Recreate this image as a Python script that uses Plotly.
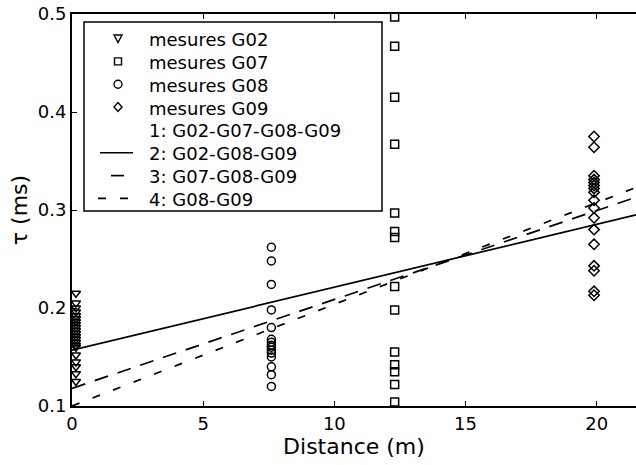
import plotly.graph_objects as go

# ---- data ----
x_g02 = 0.15
y_g02 = [0.215, 0.205, 0.2, 0.196, 0.192, 0.189, 0.186, 0.183, 0.18, 0.177,
         0.174, 0.171, 0.168, 0.165, 0.162, 0.16, 0.152, 0.145, 0.14, 0.133,
         0.125]
x_g07 = 12.3
y_g07 = [0.497, 0.467, 0.415, 0.367, 0.297, 0.278, 0.272, 0.222, 0.198,
         0.155, 0.142, 0.135, 0.122, 0.104]
x_g08 = 7.6
y_g08 = [0.262, 0.248, 0.224, 0.198, 0.18, 0.168, 0.165, 0.162, 0.16, 0.157,
         0.154, 0.15, 0.14, 0.132, 0.12]
x_g09 = 19.9
y_g09 = [0.375, 0.364, 0.335, 0.331, 0.328, 0.325, 0.322, 0.318, 0.31,
         0.302, 0.292, 0.28, 0.265, 0.243, 0.238, 0.217, 0.213]

line_x = [0.0, 21.5]
line2_y = [0.157, 0.295]
line3_y = [0.118, 0.313]
line4_y = [0.100, 0.323]

x_ticks = [0, 5, 10, 15, 20]
y_ticks = [0.1, 0.2, 0.3, 0.4, 0.5]
y_tick_text = ["0.1", "0.2", "0.3", "0.4", "0.5"]

legend_labels = ["mesures G02", "mesures G07", "mesures G08", "mesures G09",
                 "1: G02-G07-G08-G09", "2: G02-G08-G09", "3: G07-G08-G09",
                 "4: G08-G09"]
x_title = "Distance (m)"
y_title = "τ (ms)"

FONT = "DejaVu Sans, Liberation Sans, Arial, sans-serif"
W, H = 636, 465
L, R, T, B = 72, 0, 14, 59
PW, PH = W - L - R, H - T - B

DASH3 = "14px,10px"
DASH4 = "8px,14px"

mk = dict(color="black", size=8, line=dict(color="black", width=1.5))

fig = go.Figure()
fig.add_trace(go.Scatter(x=[x_g02] * len(y_g02), y=y_g02, mode="markers",
                         name=legend_labels[0], cliponaxis=False,
                         marker=dict(symbol="triangle-down-open", **mk)))
fig.add_trace(go.Scatter(x=[x_g07] * len(y_g07), y=y_g07, mode="markers",
                         name=legend_labels[1], cliponaxis=False,
                         marker=dict(symbol="square-open", **mk)))
fig.add_trace(go.Scatter(x=[x_g08] * len(y_g08), y=y_g08, mode="markers",
                         name=legend_labels[2], cliponaxis=False,
                         marker=dict(symbol="circle-open", **mk)))
fig.add_trace(go.Scatter(x=[x_g09] * len(y_g09), y=y_g09, mode="markers",
                         name=legend_labels[3], cliponaxis=False,
                         marker=dict(symbol="diamond-open", **mk)))
fig.add_trace(go.Scatter(x=line_x, y=line2_y, mode="lines",
                         name=legend_labels[5],
                         line=dict(color="black", width=1.7)))
fig.add_trace(go.Scatter(x=line_x, y=line3_y, mode="lines",
                         name=legend_labels[6],
                         line=dict(color="black", width=1.7, dash=DASH3)))
fig.add_trace(go.Scatter(x=line_x, y=line4_y, mode="lines",
                         name=legend_labels[7],
                         line=dict(color="black", width=1.7, dash=DASH4)))


# ---- legend box drawn in paper coordinates ----
def px(v):
    return (v - L) / PW


def py(v):
    return (H - B - v) / PH


shapes = [dict(type="rect", xref="paper", yref="paper", layer="above",
               x0=px(84), x1=px(382), y0=py(211), y1=py(22),
               fillcolor="white", line=dict(color="black", width=1.5))]
annotations = []
row0, step = 38.5, 22.85
sx, tx = 118, 147
lw = dict(color="black", width=1.4)
for i, lab in enumerate(legend_labels):
    cy = row0 + step * i
    annotations.append(dict(xref="paper", yref="paper", x=px(tx), y=py(cy + 1),
                            text=lab, showarrow=False, xanchor="left",
                            yanchor="middle",
                            font=dict(family=FONT, size=18, color="black")))
    if i == 0:
        shapes.append(dict(type="path", xref="paper", yref="paper", layer="above",
                           path=f"M {px(sx-4)} {py(cy-3.5)} L {px(sx+4)} {py(cy-3.5)} "
                                f"L {px(sx)} {py(cy+4)} Z", line=lw))
    elif i == 1:
        shapes.append(dict(type="rect", xref="paper", yref="paper", layer="above",
                           x0=px(sx-3.5), x1=px(sx+3.5), y0=py(cy+3.5),
                           y1=py(cy-3.5), line=lw))
    elif i == 2:
        shapes.append(dict(type="circle", xref="paper", yref="paper", layer="above",
                           x0=px(sx-4), x1=px(sx+4), y0=py(cy+4), y1=py(cy-4),
                           line=lw))
    elif i == 3:
        shapes.append(dict(type="path", xref="paper", yref="paper", layer="above",
                           path=f"M {px(sx-4)} {py(cy)} L {px(sx)} {py(cy-4.5)} "
                                f"L {px(sx+4)} {py(cy)} L {px(sx)} {py(cy+4.5)} Z",
                           line=lw))
    elif i == 5:
        shapes.append(dict(type="line", xref="paper", yref="paper", layer="above",
                           x0=px(100), x1=px(133), y0=py(cy), y1=py(cy),
                           line=dict(color="black", width=1.7)))
    elif i == 6:
        shapes.append(dict(type="line", xref="paper", yref="paper", layer="above",
                           x0=px(111), x1=px(124), y0=py(cy), y1=py(cy),
                           line=dict(color="black", width=1.7)))
    elif i == 7:
        shapes.append(dict(type="line", xref="paper", yref="paper", layer="above",
                           x0=px(98), x1=px(134), y0=py(cy), y1=py(cy),
                           line=dict(color="black", width=1.7, dash=DASH4)))

fig.update_layout(
    width=W, height=H,
    margin=dict(l=L, r=R, t=T, b=B),
    paper_bgcolor="white", plot_bgcolor="white",
    font=dict(family=FONT, size=18, color="black"),
    showlegend=False,
    shapes=shapes,
    annotations=annotations,
    xaxis=dict(range=[0, 21.5], tickvals=x_ticks, ticks="inside", ticklen=5,
               tickcolor="black", showline=True, linecolor="black",
               linewidth=2, mirror="ticks", showgrid=False, zeroline=False,
               title=dict(text=x_title, standoff=2),
               tickfont=dict(size=18)),
    yaxis=dict(range=[0.1, 0.5], tickvals=y_ticks, ticktext=y_tick_text,
               ticks="inside", ticklen=5, tickcolor="black", showline=True,
               linecolor="black", linewidth=2, mirror=False, showgrid=False,
               zeroline=False, title=dict(text=y_title, standoff=4),
               tickfont=dict(size=18)),
)

fig.write_html("out.html")
